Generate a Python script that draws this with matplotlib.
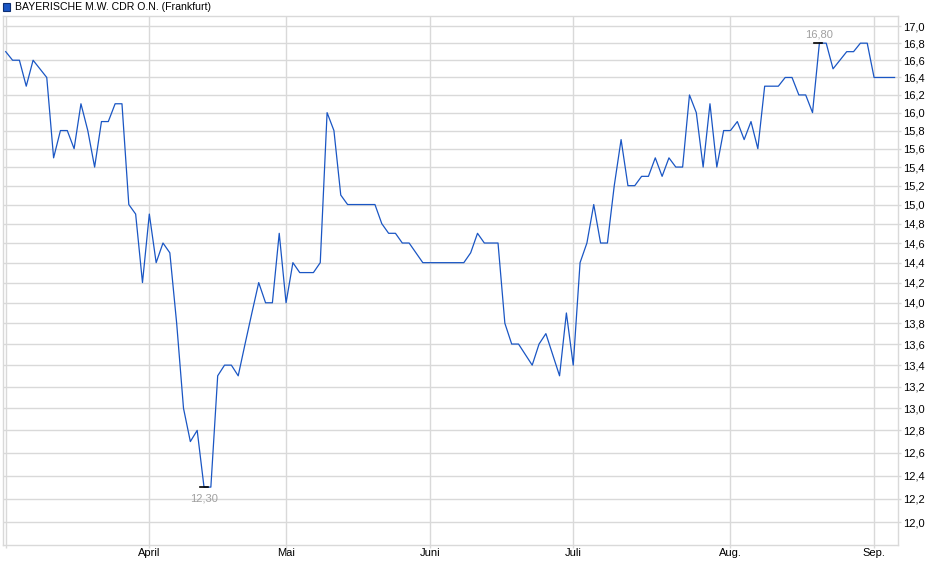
import numpy as np
import pandas as pd
import matplotlib
matplotlib.use("Agg")
import matplotlib.pyplot as plt
from matplotlib.ticker import FixedLocator, NullLocator

plt.rcParams['font.family'] = ['Liberation Sans', 'DejaVu Sans']

# trading days (Frankfurt), Mar 3 - Sep 4 2025
holidays = ['2025-04-18', '2025-04-21', '2025-05-01']
dates = pd.bdate_range('2025-03-03', '2025-09-04')
dates = dates[~dates.isin(pd.to_datetime(holidays))]

prices = [
    16.7, 16.6, 16.6, 16.3, 16.6, 16.5, 16.4, 15.5, 15.8, 15.8,
    15.6, 16.1, 15.8, 15.4, 15.9, 15.9, 16.1, 16.1, 15.0, 14.9,
    14.2, 14.9, 14.4, 14.6, 14.5, 13.8, 13.0, 12.7, 12.8, 12.3,
    12.3, 13.3, 13.4, 13.4, 13.3, 13.6, 13.9, 14.2, 14.0, 14.0,
    14.7, 14.0, 14.4, 14.3, 14.3, 14.3, 14.4, 16.0, 15.8, 15.1,
    15.0, 15.0, 15.0, 15.0, 15.0, 14.8, 14.7, 14.7, 14.6, 14.6,
    14.5, 14.4, 14.4, 14.4, 14.4, 14.4, 14.4, 14.4, 14.5, 14.7,
    14.6, 14.6, 14.6, 13.8, 13.6, 13.6, 13.5, 13.4, 13.6, 13.7,
    13.5, 13.3, 13.9, 13.4, 14.4, 14.6, 15.0, 14.6, 14.6, 15.2,
    15.7, 15.2, 15.2, 15.3, 15.3, 15.5, 15.3, 15.5, 15.4, 15.4,
    16.2, 16.0, 15.4, 16.1, 15.4, 15.8, 15.8, 15.9, 15.7, 15.9,
    15.6, 16.3, 16.3, 16.3, 16.4, 16.4, 16.2, 16.2, 16.0, 16.8,
    16.8, 16.5, 16.6, 16.7, 16.7, 16.8, 16.8, 16.4, 16.4, 16.4,
    16.4,
]

month_names = {3: '', 4: 'April', 5: 'Mai', 6: 'Juni', 7: 'Juli', 8: 'Aug.', 9: 'Sep.'}
y_ticks = np.round(np.arange(12.0, 17.01, 0.2), 1)

x = np.arange(len(prices))
prices = np.array(prices)

# first trading day of each month
month_idx = [i for i in range(len(dates)) if i == 0 or dates[i].month != dates[i - 1].month]
month_lbl = [month_names[dates[i].month] for i in month_idx]

W, H = 940, 579
fig = plt.figure(figsize=(W / 100, H / 100), dpi=100)
ax = fig.add_axes([3 / W, 1 - 545 / H, (898 - 3) / W, (545 - 16.3) / H])

grid_c = '#d9d9d9'
ax.plot(x, prices, color='#1a56c4', lw=0.9, zorder=3)

ax.set_yscale('log')
ax.set_ylim(11.81, 17.12)
ax.set_xlim(-0.4, 130.5)

ax.yaxis.set_major_locator(FixedLocator(y_ticks))
ax.yaxis.set_minor_locator(NullLocator())
ax.set_yticklabels([f'{v:.1f}'.replace('.', ',') for v in y_ticks])
ax.yaxis.tick_right()
ax.set_xticks(month_idx)
ax.set_xticklabels(month_lbl)

ax.grid(True, color=grid_c, lw=1.0)
ax.set_axisbelow(True)
for s in ax.spines.values():
    s.set_color(grid_c)
    s.set_linewidth(1.0)
ax.tick_params(axis='both', colors=grid_c, labelcolor='black', labelsize=8, length=2, width=1)
ax.tick_params(axis='y', pad=2)
ax.tick_params(axis='x', pad=0.5)

# high / low markers
i_max = int(np.argmax(prices))
i_min = int(np.argmin(prices))
ax.plot([i_max - 0.8, i_max + 0.4], [prices[i_max]] * 2, color='black', lw=1.2, zorder=4)
ax.plot([i_min - 0.6, i_min + 0.6], [prices[i_min]] * 2, color='black', lw=1.2, zorder=4)
ax.annotate(f'{prices[i_max]:.2f}'.replace('.', ','), (i_max, prices[i_max]),
            xytext=(0, 3), textcoords='offset points', ha='center', va='bottom',
            fontsize=8, color='#a0a0a0')
ax.annotate(f'{prices[i_min]:.2f}'.replace('.', ','), (i_min, prices[i_min]),
            xytext=(0, -4.5), textcoords='offset points', ha='center', va='top',
            fontsize=8, color='#a0a0a0')

# legend-like header
fig.patches.append(plt.Rectangle((2.5 / W, 1 - 10.5 / H), 7 / W, 7 / H, transform=fig.transFigure,
                                 facecolor='#1a56c4', edgecolor='#0d2f73', lw=0.8))
fig.text(15 / W, 1 - 7 / H, 'BAYERISCHE M.W. CDR O.N. (Frankfurt)', fontsize=7.6,
         va='center', ha='left', color='black')

fig.savefig('out.png', dpi=100)
